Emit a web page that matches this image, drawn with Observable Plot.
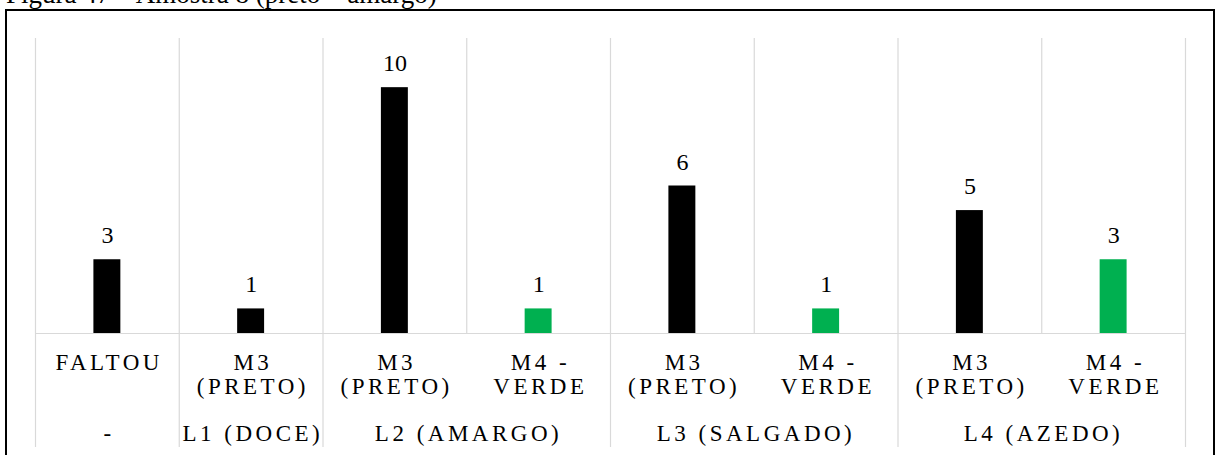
<!DOCTYPE html>
<html>
<head>
<meta charset="utf-8">
<script src="https://cdn.jsdelivr.net/npm/d3@7"></script>
<script src="https://cdn.jsdelivr.net/npm/@observablehq/plot@0.6"></script>
<style>
  html, body { margin: 0; padding: 0; background: #fff; overflow: hidden; }
  #wrap { position: relative; width: 1216px; height: 455px; overflow: hidden; background: #fff; }
  #chart { position: absolute; left: 0; top: 0; }
  #chart svg text { font-family: "Liberation Serif", "Times New Roman", serif !important; }
  #chart svg text.spaced { letter-spacing: 3.5px; }
  #frame { position: absolute; left: 5px; top: 9px; width: 1210px; height: 600px; box-sizing: border-box; border: 2px solid #000; pointer-events: none; }
  #title { position: absolute; left: 6px; top: -18.6px; font: 27px/27px "Liberation Serif", "Times New Roman", serif; color: #000; white-space: nowrap; }
</style>
</head>
<body>
<div id="wrap">
  <div id="chart"></div>
  <div id="frame"></div>
  <div id="title">Figura 47 – Amostra 8 (preto – amargo)</div>
</div>
<script>
// ---- data ----
const categories = ["FALTOU", "M3\n(PRETO)", "M3\n(PRETO)", "M4 -\nVERDE", "M3\n(PRETO)", "M4 -\nVERDE", "M3\n(PRETO)", "M4 -\nVERDE"];
const groups = ["-", "L1 (DOCE)", "L2 (AMARGO)", "L2 (AMARGO)", "L3 (SALGADO)", "L3 (SALGADO)", "L4 (AZEDO)", "L4 (AZEDO)"];
const values = [3, 1, 10, 1, 6, 1, 5, 3];
const colorKeys = ["FALTOU", "M3\n(PRETO)", "M4 -\nVERDE"];
const colorValues = ["#000000", "#000000", "#00B050"];

// ---- derived tables ----
const rows = values.map((v, i) => ({i, cat: categories[i], group: groups[i], value: v}));
const n = categories.length;
const bounds = d3.range(n + 1);
const groupRows = [];
groups.forEach((g, i) => {
  if (i === 0 || groups[i - 1] !== g) groupRows.push({group: g, start: i, end: i + 1});
  else groupRows[groupRows.length - 1].end = i + 1;
});
groupRows.forEach(d => d.mid = (d.start + d.end) / 2);
const groupBounds = [0, ...groupRows.map(d => d.end)];

const serif = "Liberation Serif";
const grid = "#d9d9d9";

const plot = Plot.plot({
  width: 1216,
  height: 455,
  marginLeft: 35,
  marginRight: 31,
  marginTop: 38,
  marginBottom: 122,
  style: {background: "transparent", overflow: "visible"},
  x: {type: "linear", domain: [0, n], axis: null},
  y: {domain: [0, 12], axis: null},
  color: {domain: colorKeys, range: colorValues},
  marks: [
    Plot.ruleX(bounds, {stroke: grid, strokeWidth: 1.2}),
    Plot.ruleX(groupBounds, {y1: 0, y2: 0, insetBottom: -114, stroke: grid, strokeWidth: 1.2}),
    Plot.ruleY([0], {stroke: grid, strokeWidth: 1.2}),
    Plot.rectY(rows, {x1: d => d.i, x2: d => d.i + 1, y1: 0, y2: "value", fill: "cat", insetLeft: 58.4, insetRight: 58.4}),
    Plot.text(rows, {x: d => d.i + 0.5, y: "value", text: d => String(d.value), lineAnchor: "bottom", dy: -16.5, fontSize: 24, fontFamily: serif, fill: "#000"}),
    Plot.text(rows, {x: d => d.i + 0.5, y: 0, text: "cat", lineAnchor: "top", lineHeight: 1.07, dy: 18.8, dx: 1.75, fontSize: 23, fontFamily: serif, fill: "#000"}),
    Plot.text(groupRows, {x: "mid", y: 0, text: "group", lineAnchor: "top", dy: 91.2, dx: 1.75, fontSize: 23, fontFamily: serif, fill: "#000"})
  ]
});

// letter spacing for the category and group labels (texts containing letters or a dash)
plot.querySelectorAll("text").forEach(t => {
  if (/[A-Za-z\-]/.test(t.textContent)) t.classList.add("spaced");
});

document.getElementById("chart").appendChild(plot);
</script>
</body>
</html>
